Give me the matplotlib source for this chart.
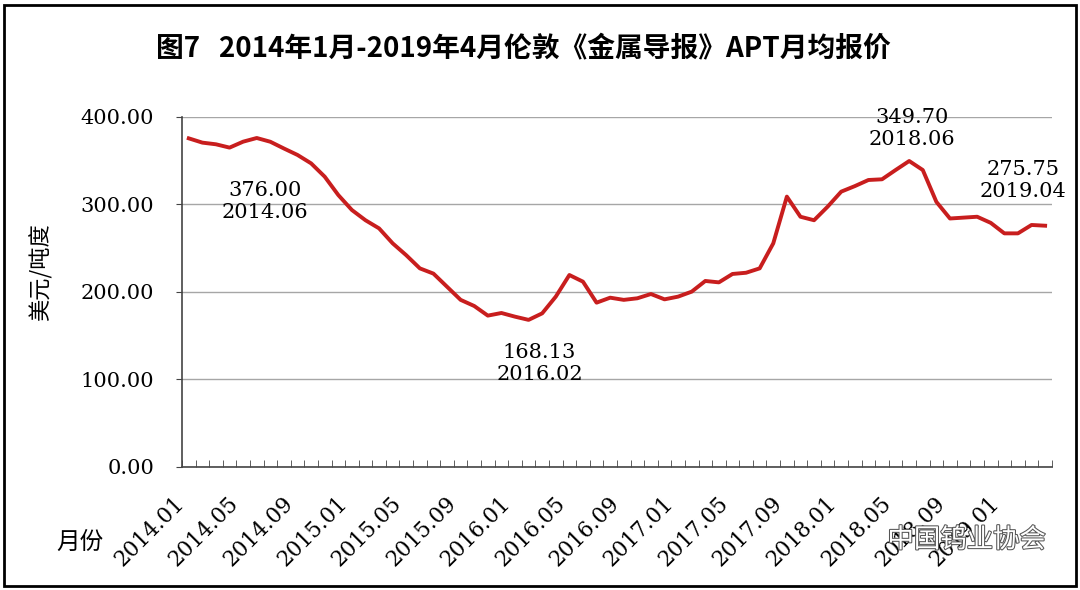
import numpy as np
import matplotlib.pyplot as plt
from matplotlib.patches import Rectangle
import matplotlib.patheffects as pe

# monthly APT price, 2014.01 - 2019.04 (USD / mtu)
months = [f'{y}.{m:02d}' for y in range(2014, 2020) for m in range(1, 13)][:64]
prices = [
    375.6, 370.7, 368.8, 365.0, 371.8, 376.0, 371.7, 364.0, 356.6, 347.0, 331.8, 310.8,
    293.7, 282.0, 272.7, 255.6, 242.0, 227.0, 221.0, 206.0, 191.0, 184.0, 173.0, 176.0,
    171.8, 168.13, 175.6, 194.7, 219.4, 211.8, 187.8, 193.5, 191.0, 192.8, 197.7, 191.6,
    194.7, 200.4, 212.6, 211.0, 220.6, 222.0, 227.0, 255.6, 309.0, 286.0, 282.0, 297.5,
    314.7, 321.0, 328.0, 328.8, 339.4, 349.70, 339.4, 303.0, 284.0, 285.0, 286.0, 279.0,
    267.0, 267.0, 276.6, 275.75,
]
tick_labels = months[::4]

# (month, value text, pixel offset of text centre)
notes = [
    ('2014.06', '376.00', (8, -64)),
    ('2016.02', '168.13', (11, -44)),
    ('2018.06', '349.70', (3, 33)),
    ('2019.04', '275.75', (-22, 45)),
]

title = '图7   2014年1月-2019年4月伦敦《金属导报》APT月均报价'
cjk = ['Noto Sans CJK SC', 'DejaVu Sans']
serif = 'DejaVu Serif'


def main() -> None:
    fig = plt.figure(figsize=(10.8, 5.9), dpi=100)
    ax = fig.add_axes([0.1685, 0.2085, 0.8055, 0.5932])

    x = np.arange(len(prices))
    ax.plot(x, prices, color='#c81e1e', linewidth=2.8, solid_joinstyle='round', zorder=3)

    ax.set_xlim(-0.5, len(prices) - 0.5)
    ax.set_ylim(0, 400)
    ax.set_yticks(range(0, 401, 100))
    ax.set_yticklabels([f'{v:.2f}' for v in range(0, 401, 100)], family=serif, fontsize=15)
    ax.tick_params(axis='y', direction='out', length=4, pad=16, color='#444444')
    ax.grid(axis='y', color='#a6a6a6', linewidth=1)
    ax.set_axisbelow(True)

    ax.set_xticks(x[::4])
    ax.set_xticklabels(tick_labels, rotation=45, ha='right', va='top',
                       family=serif, fontsize=15.5)
    ax.tick_params(axis='x', which='major', length=0, pad=18)
    ax.set_xticks(np.arange(len(prices) + 1) - 0.5, minor=True)
    ax.tick_params(axis='x', which='minor', direction='in', length=5, color='#444444')

    for side in ('top', 'right'):
        ax.spines[side].set_visible(False)
    for side in ('left', 'bottom'):
        ax.spines[side].set_color('#444444')
        ax.spines[side].set_linewidth(1.2)

    ax.set_ylabel('美元/吨度', family=cjk, fontsize=16)
    ax.yaxis.set_label_coords(-0.149, 0.557)

    for month, txt, off in notes:
        i = months.index(month)
        ax.annotate(f'{txt}\n{month}', xy=(i, prices[i]), xytext=off,
                    textcoords='offset pixels', ha='center', va='center',
                    family=serif, fontsize=15, linespacing=1.2, zorder=4)

    fig.text(0.485, 0.918, title, family=cjk, fontsize=20, fontweight='bold',
             ha='center', va='center')
    fig.text(0.074, 0.080, '月份', family=cjk, fontsize=17, ha='center', va='center')
    fig.text(0.895, 0.085, '中国钨业协会', family=cjk, fontsize=19, ha='center',
             va='center', color='white',
             path_effects=[pe.withStroke(linewidth=1.5, foreground='#555555')])

    fig.patches.append(Rectangle((0.004, 0.006), 0.992, 0.986, transform=fig.transFigure,
                                 fill=False, edgecolor='black', linewidth=2))

    fig.savefig('out.png', dpi=100)


if __name__ == '__main__':
    main()
